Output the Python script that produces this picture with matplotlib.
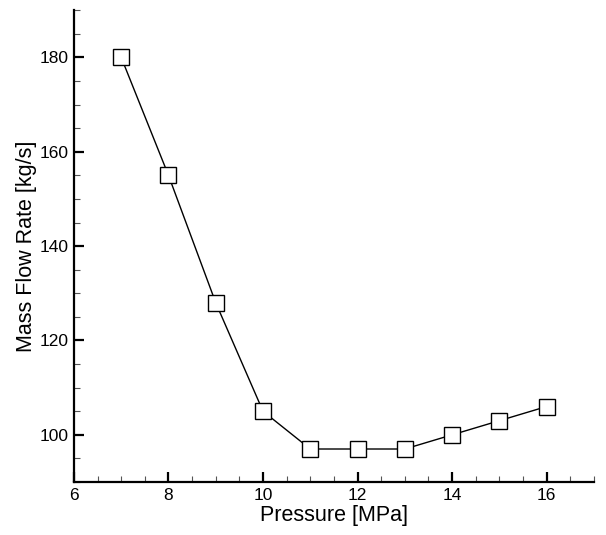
import matplotlib
matplotlib.use("Agg")
import matplotlib.pyplot as plt
from matplotlib.ticker import MultipleLocator

pressure = [7, 8, 9, 10, 11, 12, 13, 14, 15, 16]
mass_flow = [180, 155, 128, 105, 97, 97, 97, 100, 103, 106]

plt.rcParams["font.family"] = ["Liberation Sans", "DejaVu Sans"]

fig = plt.figure(figsize=(6.06, 5.35), dpi=100)
ax = fig.add_axes([0.122, 0.099, 0.858, 0.882])

ax.plot(pressure, mass_flow, color="black", linewidth=1.0,
        marker="s", markersize=11, markerfacecolor="white",
        markeredgecolor="black", markeredgewidth=1.0)

ax.set_xlim(6, 17)
ax.set_ylim(90, 190)
ax.xaxis.set_major_locator(MultipleLocator(2))
ax.xaxis.set_minor_locator(MultipleLocator(0.5))
ax.yaxis.set_major_locator(MultipleLocator(20))
ax.yaxis.set_minor_locator(MultipleLocator(5))

for s in ("top", "right"):
    ax.spines[s].set_visible(False)
for s in ("left", "bottom"):
    ax.spines[s].set_linewidth(1.6)

ax.tick_params(which="major", direction="in", length=7, width=1.6, labelsize=12.5, pad=4)
ax.tick_params(which="minor", direction="in", length=4, width=0.8, color="#555555")

ax.set_xlabel("Pressure [MPa]", fontsize=15.5, labelpad=2)
ax.set_ylabel("Mass Flow Rate [kg/s]", fontsize=15.5, labelpad=2)

fig.savefig("out.png", dpi=100)
